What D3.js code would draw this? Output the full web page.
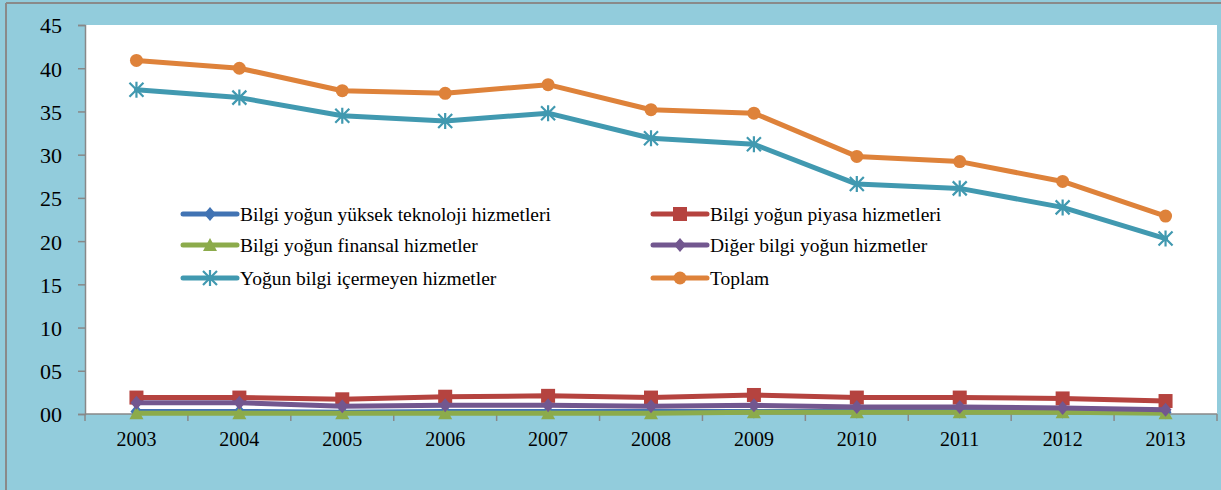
<!DOCTYPE html>
<html>
<head>
<meta charset="utf-8">
<script src="https://cdn.jsdelivr.net/npm/d3@7"></script>
<style>
  body { margin: 0; background: #fff; }
  svg { display: block; }
</style>
</head>
<body>
<div id="chart"></div>
<script>
var years = ["2003", "2004", "2005", "2006", "2007", "2008", "2009", "2010", "2011", "2012", "2013"];
var yTicks = [0, 5, 10, 15, 20, 25, 30, 35, 40, 45];

var yuksekTekno = [0.3, 0.3, 0.2, 0.3, 0.3, 0.3, 0.3, 0.3, 0.3, 0.3, 0.2];
var piyasa = [1.9, 1.9, 1.7, 2.0, 2.1, 1.9, 2.2, 1.9, 1.9, 1.8, 1.5];
var finansal = [0.1, 0.1, 0.1, 0.1, 0.1, 0.1, 0.2, 0.2, 0.2, 0.2, 0.1];
var diger = [1.3, 1.3, 0.9, 1.0, 1.0, 0.9, 1.0, 0.8, 0.8, 0.7, 0.5];
var icermeyen = [37.5, 36.6, 34.5, 33.9, 34.8, 31.9, 31.2, 26.6, 26.1, 23.9, 20.3];
var toplam = [40.9, 40.0, 37.4, 37.1, 38.1, 35.2, 34.8, 29.8, 29.2, 26.9, 22.9];

var series = [
  { name: "Bilgi yoğun yüksek teknoloji hizmetleri", values: yuksekTekno, color: "#4173B3", marker: "diamond", col: 0, row: 0 },
  { name: "Bilgi yoğun piyasa hizmetleri", values: piyasa, color: "#B5433F", marker: "square", col: 1, row: 0 },
  { name: "Bilgi yoğun finansal hizmetler", values: finansal, color: "#8CAB4B", marker: "triangle", col: 0, row: 1 },
  { name: "Diğer bilgi yoğun hizmetler", values: diger, color: "#72578F", marker: "diamond", col: 1, row: 1 },
  { name: "Yoğun bilgi içermeyen hizmetler", values: icermeyen, color: "#4199B0", marker: "asterisk", col: 0, row: 2 },
  { name: "Toplam", values: toplam, color: "#DE823A", marker: "circle", col: 1, row: 2 }
];

var FONT = "'Liberation Serif', 'DejaVu Serif', serif";
var W = 1221, H = 490;
var plot = { left: 85, right: 1217, top: 25, bottom: 414 };

var svg = d3.select("#chart").append("svg").attr("width", W).attr("height", H);

// chart area background + border (top / left visible)
svg.append("rect").attr("x", 0).attr("y", 0).attr("width", W).attr("height", H).attr("fill", "#92CCDC");
svg.append("line").attr("x1", 6).attr("x2", W).attr("y1", 3).attr("y2", 3).attr("stroke", "#8a8a8a").attr("stroke-width", 2);
svg.append("line").attr("x1", 6).attr("x2", 6).attr("y1", 3).attr("y2", H).attr("stroke", "#8a8a8a").attr("stroke-width", 2);

svg.append("rect")
  .attr("x", plot.left).attr("y", plot.top)
  .attr("width", plot.right - plot.left).attr("height", plot.bottom - plot.top)
  .attr("fill", "#fff");

var x = d3.scaleBand().domain(years).range([plot.left, plot.right]);
var y = d3.scaleLinear().domain([0, 45]).range([plot.bottom, plot.top]);

// y axis
var yAxis = svg.append("g")
  .attr("transform", "translate(" + plot.left + ",0)")
  .call(d3.axisLeft(y).tickValues(yTicks).tickFormat(d3.format("02d")).tickSize(7).tickPadding(16));
yAxis.attr("font-family", FONT).attr("font-size", 22);
yAxis.select(".domain").attr("stroke", "#888").attr("stroke-width", 1.5);
yAxis.selectAll(".tick line").attr("stroke", "#888").attr("stroke-width", 1.5);
yAxis.selectAll("text").attr("fill", "#000").attr("dy", "0.36em");

// x axis: ticks on band boundaries
var xg = svg.append("g").attr("transform", "translate(0," + plot.bottom + ")");
xg.append("line").attr("x1", plot.left).attr("x2", plot.right).attr("stroke", "#888").attr("stroke-width", 1.5);
var bounds = years.map(function (d) { return x(d); }).concat([plot.right]);
xg.selectAll(".xt").data(bounds).enter().append("line")
  .attr("x1", function (d) { return d; }).attr("x2", function (d) { return d; })
  .attr("y1", 0).attr("y2", 7).attr("stroke", "#888").attr("stroke-width", 1.5);
xg.selectAll(".xl").data(years).enter().append("text")
  .attr("x", function (d) { return x(d) + x.bandwidth() / 2; })
  .attr("y", 32)
  .attr("text-anchor", "middle")
  .attr("font-family", FONT)
  .attr("font-size", 20)
  .text(function (d) { return d; });

var cx = function (i) { return x(years[i]) + x.bandwidth() / 2; };

function drawMarker(g, type, color) {
  if (type === "circle") {
    g.append("circle").attr("r", 6.5).attr("fill", color);
  } else if (type === "square") {
    g.append("rect").attr("x", -7).attr("y", -7).attr("width", 14).attr("height", 14).attr("fill", color);
  } else if (type === "diamond") {
    g.append("path").attr("d", "M0,-7L6,0L0,7L-6,0Z").attr("fill", color);
  } else if (type === "triangle") {
    g.append("path").attr("d", "M0,-7L7,6L-7,6Z").attr("fill", color);
  } else if (type === "asterisk") {
    g.append("path").attr("d", "M-7,-7L7,7M-7,7L7,-7M0,-8L0,8")
      .attr("stroke", color).attr("stroke-width", 2.2).attr("fill", "none");
  }
}

var line = d3.line().x(function (d, i) { return cx(i); }).y(function (d) { return y(d); });

var drawOrder = [4, 5, 0, 2, 1, 3];
drawOrder.forEach(function (k) {
  var s = series[k];
  var g = svg.append("g");
  g.append("path").datum(s.values)
    .attr("d", line).attr("fill", "none")
    .attr("stroke", s.color).attr("stroke-width", 5)
    .attr("stroke-linejoin", "round").attr("stroke-linecap", "round");
  s.values.forEach(function (v, i) {
    var m = g.append("g").attr("transform", "translate(" + cx(i) + "," + y(v) + ")");
    drawMarker(m, s.marker, s.color);
  });
});

// legend
var legCols = [183, 653];
var legRows = [214, 245, 278];
series.forEach(function (s) {
  var lx = legCols[s.col], ly = legRows[s.row];
  var g = svg.append("g").attr("transform", "translate(" + lx + "," + ly + ")");
  g.append("line").attr("x1", 0).attr("x2", 54).attr("y1", 0).attr("y2", 0)
    .attr("stroke", s.color).attr("stroke-width", 5).attr("stroke-linecap", "round");
  var m = g.append("g").attr("transform", "translate(27,0)");
  drawMarker(m, s.marker, s.color);
  g.append("text").attr("x", 57).attr("y", 0).attr("dy", "0.35em")
    .attr("font-family", FONT).attr("font-size", 19.5).attr("fill", "#000")
    .text(s.name);
});
</script>
</body>
</html>
